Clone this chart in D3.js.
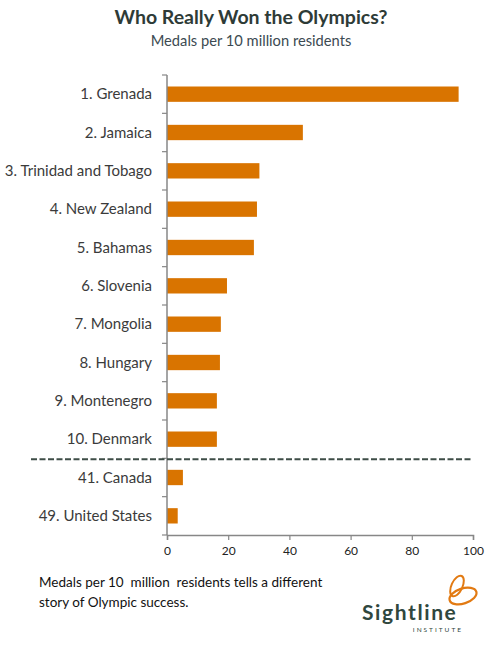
<!DOCTYPE html>
<html>
<head>
<meta charset="utf-8">
<script src="https://cdn.jsdelivr.net/npm/d3@7"></script>
<style>
  body { margin: 0; background: #fff; }
  svg { font-family: Lato, "Open Sans", sans-serif; }
</style>
</head>
<body>
<svg width="502" height="648"></svg>
<script>
// Data
const countries = [
    "1. Grenada", "2. Jamaica", "3. Trinidad and Tobago", "4. New Zealand",
    "5. Bahamas", "6. Slovenia", "7. Mongolia", "8. Hungary",
    "9. Montenegro", "10. Denmark", "41. Canada", "49. United States"
];
const medalsPer10M = [95.3, 44.4, 30.2, 29.4, 28.4, 19.6, 17.6, 17.3, 16.3, 16.3, 5.2, 3.5];
const xTicks = [0, 20, 40, 60, 80, 100];
const footnoteLines = [
    "Medals per 10  million  residents tells a different",
    "story of Olympic success."
];

const data = countries.map((c, i) => ({ country: c, value: medalsPer10M[i] }));

const svg = d3.select("svg");
const margin = { top: 75, left: 167, right: 29, bottom: 113 };
const width = +svg.attr("width");
const height = +svg.attr("height");

const x = d3.scaleLinear()
    .domain([0, 100])
    .range([margin.left, width - margin.right]);

const y = d3.scaleBand()
    .domain(countries)
    .range([margin.top, height - margin.bottom])
    .paddingInner(0.6)
    .paddingOuter(0.3);

const axisColor = "#878787";

// Title
svg.append("text")
    .attr("x", 251)
    .attr("y", 24)
    .attr("text-anchor", "middle")
    .style("font-size", "19.5px")
    .style("font-weight", "bold")
    .style("fill", "#2e3b37")
    .text("Who Really Won the Olympics?");

svg.append("text")
    .attr("x", 251)
    .attr("y", 46)
    .attr("text-anchor", "middle")
    .style("font-size", "14.7px")
    .style("fill", "#3c4a52")
    .text("Medals per 10 million residents");

// Bars
svg.selectAll("rect.bar")
    .data(data)
    .enter().append("rect")
    .attr("class", "bar")
    .attr("x", x(0))
    .attr("y", d => y(d.country))
    .attr("width", d => x(d.value) - x(0))
    .attr("height", y.bandwidth())
    .attr("fill", "#d97400");

// Category axis: ticks between categories
const step = y.step();
const boundaries = d3.range(countries.length + 1).map(i => margin.top + i * step);
svg.append("line")
    .attr("x1", x(0)).attr("x2", x(0))
    .attr("y1", margin.top).attr("y2", height - margin.bottom)
    .attr("stroke", axisColor).attr("stroke-width", 1.5);
svg.selectAll("line.ytick")
    .data(boundaries)
    .enter().append("line")
    .attr("class", "ytick")
    .attr("x1", x(0) - 5).attr("x2", x(0))
    .attr("y1", d => d).attr("y2", d => d)
    .attr("stroke", axisColor).attr("stroke-width", 1.2);

svg.selectAll("text.ylabel")
    .data(data)
    .enter().append("text")
    .attr("class", "ylabel")
    .attr("x", x(0) - 15)
    .attr("y", d => y(d.country) + y.bandwidth() / 2)
    .attr("dy", "0.35em")
    .attr("text-anchor", "end")
    .style("font-size", "15px")
    .style("fill", "#3b3b3b")
    .text(d => d.country);

// Value axis
const xAxis = svg.append("g")
    .attr("transform", `translate(0,${height - margin.bottom})`)
    .call(d3.axisBottom(x).tickValues(xTicks).tickSize(5).tickPadding(6));
xAxis.select(".domain").attr("stroke", axisColor).attr("stroke-width", 1.5);
xAxis.selectAll(".tick line").attr("stroke", axisColor).attr("stroke-width", 1.2);
xAxis.selectAll(".tick text")
    .style("font-family", "Lato, sans-serif")
    .style("font-size", "12px")
    .style("fill", "#222");

// Dashed separator between top 10 and the rest
svg.append("line")
    .attr("x1", 31)
    .attr("x2", x(100))
    .attr("y1", boundaries[10] + 1)
    .attr("y2", boundaries[10] + 1)
    .attr("stroke", "#3e4d47")
    .attr("stroke-width", 2)
    .attr("stroke-dasharray", "6,2.5");

// Footnote
svg.selectAll("text.note")
    .data(footnoteLines)
    .enter().append("text")
    .attr("class", "note")
    .attr("x", 39)
    .attr("y", (d, i) => 587 + i * 20)
    .style("font-size", "13.5px")
    .style("white-space", "pre")
    .style("fill", "#111")
    .text(d => d);

// Sightline logo
const logo = svg.append("g");
logo.append("ellipse")
    .attr("cx", 463).attr("cy", 596)
    .attr("rx", 14).attr("ry", 7.5)
    .attr("transform", "rotate(-18,463,596)")
    .attr("fill", "none").attr("stroke", "#e27a12").attr("stroke-width", 2.2);
logo.append("ellipse")
    .attr("cx", 457).attr("cy", 586)
    .attr("rx", 5.5).attr("ry", 11)
    .attr("transform", "rotate(25,457,586)")
    .attr("fill", "none").attr("stroke", "#e27a12").attr("stroke-width", 2);
logo.append("text")
    .attr("x", 362)
    .attr("y", 620)
    .style("font-size", "21px")
    .style("font-weight", "bold")
    .style("letter-spacing", "1.6px")
    .style("fill", "#2f473e")
    .text("Sightline");
logo.append("text")
    .attr("x", 463)
    .attr("y", 632)
    .attr("text-anchor", "end")
    .style("font-size", "6.5px")
    .style("letter-spacing", "2px")
    .style("fill", "#2f473e")
    .text("INSTITUTE");
</script>
</body>
</html>
